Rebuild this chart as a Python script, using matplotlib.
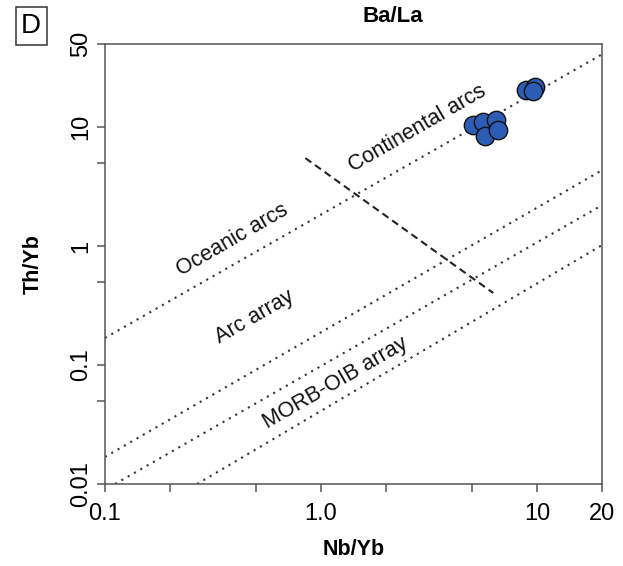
import numpy as np
import matplotlib.pyplot as plt
from matplotlib.ticker import FixedLocator, FixedFormatter, NullFormatter

plt.rcParams['font.family'] = ['Liberation Sans', 'DejaVu Sans']

# samples (Nb/Yb, Th/Yb)
nb_yb = [5.04, 5.61, 6.46, 5.74, 6.62, 8.89, 9.79, 9.58]
th_yb = [10.4, 11.1, 11.4, 8.4, 9.44, 20.5, 21.7, 20.1]

# reference lines (x0, x1, y0, y1)
ocean_x = [0.1, 20.0]
ocean_y = [0.169, 41.0]
arc_x = [0.1, 20.0]
arc_y = [0.0169, 4.35]
morb_up_x = [0.1113, 20.0]
morb_up_y = [0.01, 2.21]
morb_lo_x = [0.267, 20.0]
morb_lo_y = [0.01, 1.02]
div_x = [0.846, 6.27]
div_y = [5.49, 0.403]

xticks = [0.1, 0.2, 0.5, 1.0, 2, 5, 10, 20]
xlabels = ['0.1', '', '', '1.0', '', '', '10', '20']
yticks = [0.01, 0.05, 0.1, 0.5, 1, 5, 10, 50]
ylabels = ['0.01', '', '0.1', '', '1', '', '10', '50']

fig = plt.figure(figsize=(6.23, 5.66), dpi=100)
ax = fig.add_axes([0.1685, 0.1449, 0.798, 0.7774])
ax.set_xscale('log')
ax.set_yscale('log')
ax.set_xlim(0.1, 20)
ax.set_ylim(0.01, 50)

dot = dict(color='#333333', lw=1.5, linestyle=(0, (1, 2.5)))
for xs, ys in [(ocean_x, ocean_y), (arc_x, arc_y),
               (morb_up_x, morb_up_y), (morb_lo_x, morb_lo_y)]:
    ax.plot(xs, ys, **dot)
ax.plot(div_x, div_y, color='#222222', lw=1.5, linestyle=(0, (3.5, 2.2)))

ax.scatter(nb_yb, th_yb, s=175, c='#2d5cb5', edgecolors='#111111',
           linewidths=1.0, zorder=5)

tk = dict(fontsize=15.5, rotation=30, rotation_mode='anchor',
          ha='center', va='center', color='#111111')
ax.text(0.387, 1.12, 'Oceanic arcs', **tk)
ax.text(2.8, 9.8, 'Continental arcs', **tk)
ax.text(0.495, 0.253, 'Arc array', **tk)
ax.text(1.17, 0.0706, 'MORB-OIB array', **tk)

ax.xaxis.set_major_locator(FixedLocator(xticks))
ax.xaxis.set_major_formatter(FixedFormatter(xlabels))
ax.xaxis.set_minor_formatter(NullFormatter())
ax.xaxis.set_minor_locator(FixedLocator([]))
ax.yaxis.set_major_locator(FixedLocator(yticks))
ax.yaxis.set_major_formatter(FixedFormatter(ylabels))
ax.yaxis.set_minor_formatter(NullFormatter())
ax.yaxis.set_minor_locator(FixedLocator([]))
ax.tick_params(length=6, width=1.1, color='#555555', labelsize=17)
ax.tick_params(axis='x', pad=8)
ax.tick_params(axis='y', pad=3)
for lab in ax.get_yticklabels():
    lab.set_rotation(90)
    lab.set_va('center')
for sp in ax.spines.values():
    sp.set_color('#555555')
    sp.set_linewidth(1.1)

ax.set_xlabel('Nb/Yb', fontsize=15.5, fontweight='bold', labelpad=10)
ax.set_ylabel('Th/Yb', fontsize=15.5, fontweight='bold', labelpad=19)
fig.text(0.63, 0.99, 'Ba/La', fontsize=16, fontweight='bold',
         ha='center', va='top')
fig.text(0.05, 0.954, 'D', fontsize=20, ha='center', va='center',
         bbox=dict(boxstyle='square,pad=0.2', fc='white', ec='#333333', lw=1.1))

fig.savefig('out.png', dpi=100)
